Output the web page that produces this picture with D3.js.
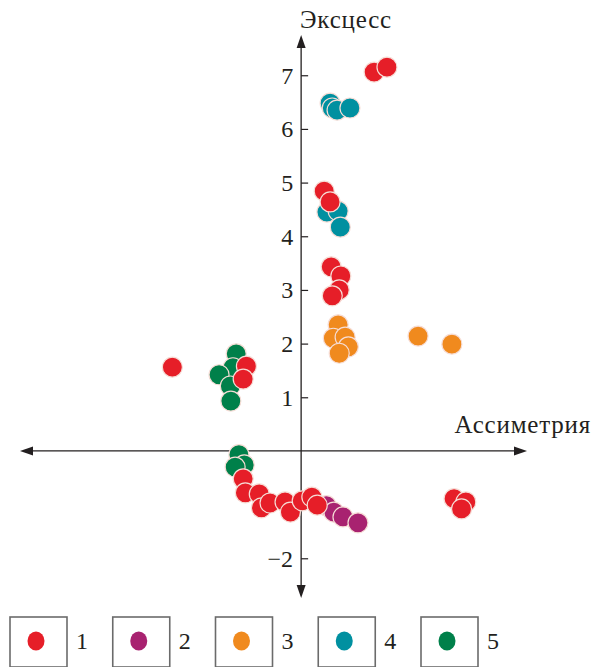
<!DOCTYPE html>
<meta charset="utf-8">
<style>
body { margin: 0; background: #fff; }
</style>
<svg width="603" height="667"></svg>
<script src="https://d3js.org/d3.v7.min.js"></script>
<script>

// groups 1..5
var groups = ["1", "2", "3", "4", "5"];
var colors = ["#e61e28", "#a82270", "#f08a1e", "#0090a0", "#00804a"];

// [asymmetry, excess]
var group1 = [
  [1.36, 7.06], [1.60, 7.15], [0.43, 4.84], [0.54, 4.64],
  [0.56, 3.43], [0.74, 3.26], [0.71, 3.00], [0.58, 2.89],
  [-2.40, 1.56], [-1.02, 1.58], [-1.08, 1.34],
  [-1.08, -0.52], [-1.04, -0.78], [-0.78, -0.80], [-0.74, -1.06], [-0.58, -0.97],
  [-0.30, -0.95], [-0.20, -1.14], [0.02, -0.93], [0.20, -0.86], [0.30, -1.01],
  [2.85, -0.89], [3.07, -0.95], [2.99, -1.08]
];
var group2 = [[0.47, -1.02], [0.61, -1.14], [0.78, -1.23], [1.06, -1.34]];
var group3 = [
  [0.69, 2.35], [0.60, 2.10], [0.82, 2.12], [0.88, 1.94], [0.71, 1.82],
  [2.18, 2.14], [2.81, 1.99]
];
var group4 = [
  [0.54, 6.48], [0.58, 6.39], [0.67, 6.35], [0.91, 6.39],
  [0.48, 4.45], [0.69, 4.47], [0.73, 4.17]
];
var group5 = [
  [-1.21, 1.81], [-1.27, 1.55], [-1.53, 1.42], [-1.32, 1.21], [-1.31, 0.93],
  [-1.16, -0.07], [-1.06, -0.26], [-1.23, -0.30]
];
var series = [group1, group2, group3, group4, group5];
var yTicks = [-2, -1, 1, 2, 3, 4, 5, 6, 7];
var yTickLabels = ["\u22122", "", "1", "2", "3", "4", "5", "6", "7"];

var svg = d3.select("svg");
var serif = "'Liberation Serif', 'Times New Roman', 'DejaVu Serif', serif";

var x = d3.scaleLinear().domain([-5.24, 4.21]).range([20, 527]),
    y = d3.scaleLinear().domain([-2.74, 7.75]).range([598, 35]);

var ink = "#231f20";

// axes lines
svg.append("line")
    .attr("x1", x(-5.24) + 8).attr("x2", x(4.21) - 8)
    .attr("y1", y(0)).attr("y2", y(0))
    .attr("stroke", ink).attr("stroke-width", 1.3);
svg.append("line")
    .attr("x1", x(0)).attr("x2", x(0))
    .attr("y1", y(7.75) + 8).attr("y2", y(-2.74) - 8)
    .attr("stroke", ink).attr("stroke-width", 1.3);

// arrow heads
function arrow(px, py, dir) {
  var l = 13, w = 4.5, pts;
  if (dir == "up") pts = [[px, py], [px - w, py + l], [px + w, py + l]];
  if (dir == "down") pts = [[px, py], [px - w, py - l], [px + w, py - l]];
  if (dir == "left") pts = [[px, py], [px + l, py - w], [px + l, py + w]];
  if (dir == "right") pts = [[px, py], [px - l, py - w], [px - l, py + w]];
  svg.append("path").attr("d", "M" + pts.join("L") + "Z").attr("fill", ink);
}
arrow(x(0), y(7.75), "up");
arrow(x(0), y(-2.74), "down");
arrow(x(-5.24), y(0), "left");
arrow(x(4.21), y(0), "right");

// y ticks
var axisY = d3.axisRight(y).tickValues(yTicks).tickSize(7).tickFormat("");
svg.append("g")
    .attr("transform", "translate(" + x(0) + ",0)")
    .call(axisY)
    .call(function(g) { g.select(".domain").remove(); })
    .selectAll("line").attr("stroke", ink).attr("stroke-width", 1.2);

svg.append("g").selectAll("text")
  .data(yTicks)
  .enter().append("text")
    .attr("x", x(0) - 8)
    .attr("y", function(d) { return y(d); })
    .attr("dy", "0.35em")
    .attr("text-anchor", "end")
    .attr("font-family", serif)
    .attr("font-size", 24)
    .attr("fill", ink)
    .text(function(d, i) { return yTickLabels[i]; });

// axis titles
svg.append("text")
    .attr("x", 300).attr("y", 28)
    .attr("font-family", serif)
    .attr("font-size", 25)
    .attr("letter-spacing", 0.8)
    .attr("fill", ink)
    .text("Эксцесс");
svg.append("text")
    .attr("x", 591).attr("y", 433)
    .attr("text-anchor", "end")
    .attr("font-family", serif)
    .attr("font-size", 25)
    .attr("letter-spacing", 0.8)
    .attr("fill", ink)
    .text("Ассиметрия");

// points, group 5 drawn first so group 1 lands on top
for (var s = series.length - 1; s >= 0; s--) {
  svg.append("g").selectAll("circle")
    .data(series[s])
    .enter().append("circle")
      .attr("cx", function(d) { return x(d[0]); })
      .attr("cy", function(d) { return y(d[1]); })
      .attr("r", 10)
      .attr("fill", colors[s])
      .attr("stroke", "#f6ddd6")
      .attr("stroke-width", 1.2);
}

// legend
var lx = d3.scalePoint().domain(groups).range([10, 421]);
var leg = svg.append("g").selectAll("g")
  .data(groups)
  .enter().append("g")
    .attr("transform", function(d) { return "translate(" + lx(d) + ",617)"; });
leg.append("rect")
    .attr("width", 57).attr("height", 50)
    .attr("fill", "#fff")
    .attr("stroke", "#6b6b6b").attr("stroke-width", 1.6);
leg.append("ellipse")
    .attr("cx", 26).attr("cy", 24)
    .attr("rx", 8.5).attr("ry", 9.5)
    .attr("fill", function(d, i) { return colors[i]; });
leg.append("text")
    .attr("x", 66).attr("y", 32)
    .attr("font-family", serif)
    .attr("font-size", 24)
    .attr("fill", ink)
    .text(function(d) { return d; });

</script>
